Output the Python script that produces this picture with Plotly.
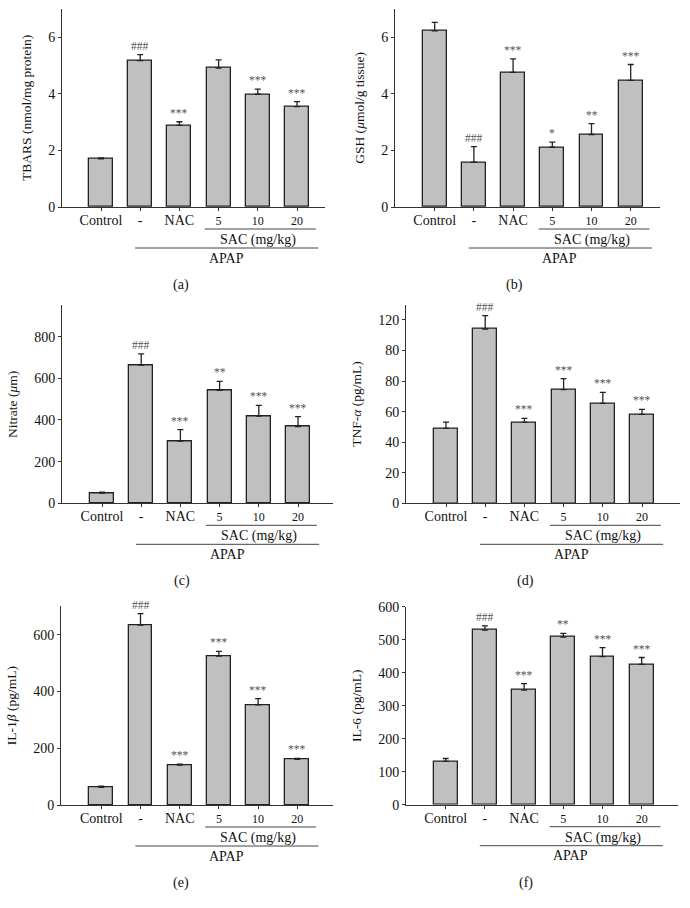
import plotly.graph_objects as go

W, H = 690, 908

categories = ["Control", "-", "NAC", "5", "10", "20"]
cat_ticktext = ["Control", "-", "NAC",
                "<span style='font-size:12px'>5</span>",
                "<span style='font-size:12px'>10</span>",
                "<span style='font-size:12px'>20</span>"]

# values
tbars = [1.70, 5.17, 2.88, 4.90, 3.98, 3.54]
tbars_err = [0.03, 0.21, 0.13, 0.29, 0.18, 0.18]
tbars_sig = ["", "###", "***", "", "***", "***"]

gsh = [6.22, 1.58, 4.75, 2.11, 2.56, 4.47]
gsh_err = [0.30, 0.55, 0.48, 0.18, 0.38, 0.56]
gsh_sig = ["", "###", "***", "*", "**", "***"]

nitrate = [49, 664, 299, 542, 419, 368]
nitrate_err = [5, 53, 55, 43, 51, 48]
nitrate_sig = ["", "###", "***", "**", "***", "***"]

tnf = [49.1, 114.1, 53.0, 74.4, 65.4, 58.2]
tnf_err = [4.0, 8.7, 2.6, 7.2, 7.2, 3.3]
tnf_sig = ["", "###", "***", "***", "***", "***"]
tnf_tickvals = [0, 20, 40, 60, 80, 100, 120]
tnf_ticktext = ["0", "20", "40", "60", "80", "80", "120"]

il1b = [62, 634, 141, 525, 353, 161]
il1b_err = [4, 40, 3, 16, 22, 3]
il1b_sig = ["", "###", "***", "***", "***", "***"]

il6 = [131, 529, 347, 508, 449, 425]
il6_err = [9, 13, 20, 11, 27, 21]
il6_sig = ["", "###", "***", "**", "***", "***"]

panels = [
    dict(v=tbars, e=tbars_err, s=tbars_sig, ylab="TBARS (nmol/mg protein)", tag="(a)",
         ymax=7, dtick=2, tv=None, tt=None,
         axL=62, axR=325, base=207, top=8.7, ctrl=101),
    dict(v=gsh, e=gsh_err, s=gsh_sig, ylab="GSH (<i>μ</i>mol/g tissue)", tag="(b)",
         ymax=7, dtick=2, tv=None, tt=None,
         axL=395, axR=660, base=207, top=8.7, ctrl=434.7),
    dict(v=nitrate, e=nitrate_err, s=nitrate_sig, ylab="Nitrate (<i>μ</i>m)", tag="(c)",
         ymax=950, dtick=200, tv=None, tt=None,
         axL=62, axR=333, base=503.3, top=305.4, ctrl=102),
    dict(v=tnf, e=tnf_err, s=tnf_sig, ylab="TNF-<i>α</i> (pg/mL)", tag="(d)",
         ymax=130, dtick=20, tv=tnf_tickvals, tt=tnf_ticktext,
         axL=406, axR=680, base=503.3, top=304.7, ctrl=446),
    dict(v=il1b, e=il1b_err, s=il1b_sig, ylab="IL-1<i>β</i> (pg/mL)", tag="(e)",
         ymax=700, dtick=200, tv=None, tt=None,
         axL=61, axR=333, base=805, top=606.3, ctrl=101.3),
    dict(v=il6, e=il6_err, s=il6_sig, ylab="IL-6 (pg/mL)", tag="(f)",
         ymax=600, dtick=100, tv=None, tt=None,
         axL=406, axR=678, base=804.7, top=606.7, ctrl=445.7),
]

SP = 39.2  # px per category
FONT = "Liberation Serif"
AX = "#333333"

fig = go.Figure()
shapes = []
annotations = []


def py(p):
    return 1 - p / H


for i, p in enumerate(panels):
    n = i + 1
    xa = "x" if n == 1 else f"x{n}"
    ya = "y" if n == 1 else f"y{n}"
    xk = "xaxis" if n == 1 else f"xaxis{n}"
    yk = "yaxis" if n == 1 else f"yaxis{n}"
    xs = list(range(len(categories)))
    fig.add_trace(go.Bar(
        x=xs, y=p["v"], width=0.61, xaxis=xa, yaxis=ya,
        marker=dict(color="#c0c0c0", line=dict(color="#222222", width=1.3)),
        error_y=dict(type="data", symmetric=False, array=p["e"],
                     arrayminus=[0] * len(p["e"]), color="#222222",
                     thickness=1.3, width=3),
        showlegend=False, hoverinfo="skip"))
    lo = (p["axL"] - p["ctrl"]) / SP
    hi = (p["axR"] - p["ctrl"]) / SP
    fig.layout[xk] = dict(
        domain=[p["axL"] / W, p["axR"] / W], range=[lo, hi], anchor=ya,
        automargin=False,
        tickmode="array", tickvals=xs, ticktext=cat_ticktext,
        ticks="outside", ticklen=3, tickcolor=AX, showline=True,
        linecolor=AX, linewidth=1, showgrid=False, zeroline=False,
        ticklabelstandoff=-3,
        tickfont=dict(family=FONT, size=14, color="#111"))
    yd = dict(
        domain=[py(p["base"]), py(p["top"])], range=[0, p["ymax"]], anchor=xa,
        automargin=False,
        ticks="outside", ticklen=3, tickcolor=AX, showline=True,
        linecolor=AX, linewidth=1, showgrid=False, zeroline=False,
        tickfont=dict(family=FONT, size=14, color="#111"),
        title=dict(text=p["ylab"], font=dict(family=FONT, size=13.5, color="#111"),
                   standoff=13))
    if p["tv"] is not None:
        yd.update(tickmode="array", tickvals=p["tv"], ticktext=p["tt"])
    else:
        yd.update(dtick=p["dtick"], tick0=0)
    fig.layout[yk] = yd

    # significance marks
    for j, s in enumerate(p["s"]):
        if s:
            annotations.append(dict(
                x=j, y=p["v"][j] + p["e"][j], xref=xa, yref=ya, text=s,
                showarrow=False, xanchor="center", yanchor="bottom", yshift=1,
                font=dict(family=FONT, size=11.5, color="#555")))

    base = p["base"]
    # SAC and APAP brackets
    shapes.append(dict(type="line", xref=xa, yref="paper", x0=2.65, x1=5.48,
                       y0=py(base + 22), y1=py(base + 22),
                       line=dict(color="#444", width=1)))
    shapes.append(dict(type="line", xref=xa, yref="paper", x0=0.87, x1=5.54,
                       y0=py(base + 41), y1=py(base + 41),
                       line=dict(color="#444", width=1)))
    for tx, ty, txt in [(4.0, base + 33, "SAC (mg/kg)"),
                        (3.19, base + 51, "APAP"),
                        (2.04, base + 78, p["tag"])]:
        annotations.append(dict(x=tx, y=py(ty), xref=xa, yref="paper",
                                text=txt, showarrow=False,
                                xanchor="center", yanchor="middle",
                                font=dict(family=FONT, size=14, color="#111")))

fig.update_layout(width=W, height=H, margin=dict(l=0, r=0, t=0, b=0),
                  paper_bgcolor="white", plot_bgcolor="white",
                  shapes=shapes, annotations=annotations, bargap=0)
fig.write_html("out.html", config={"displayModeBar": False},
               post_script="document.body.style.margin='0';"
                           "document.body.style.overflow='hidden';")
